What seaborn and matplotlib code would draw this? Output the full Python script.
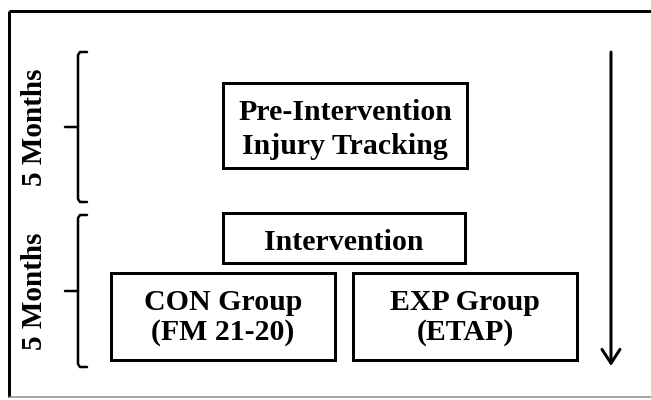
import matplotlib
matplotlib.use('Agg')
import matplotlib.pyplot as plt
import seaborn as sns
from matplotlib.patches import Rectangle, FancyArrowPatch

# ====================
# Data
# ====================

box_labels = ['Pre-Intervention\nInjury Tracking', 'Intervention',
              'CON Group\n(FM 21-20)', 'EXP Group\n(ETAP)']
# box geometry in pixels: left, top, right, bottom
box_left = [223, 223, 111, 353]
box_top = [83, 213, 273, 273]
box_right = [467, 465, 335, 577]
box_bottom = [168, 263, 360, 360]
text_shift = [4, 4, 1, 1]
line_gap = [1.3, 1.0, 1.15, 1.15]

phase_labels = ['5 Months', '5 Months']
phase_top = [52, 215]
phase_bottom = [202, 367]

# ====================
# Plotting
# ====================

sns.set_style('white')
plt.rcParams['font.family'] = ['Liberation Serif', 'DejaVu Serif']
plt.rcParams['text.color'] = 'black'

fig = plt.figure(figsize=(6.51, 4.0), dpi=100)
ax = fig.add_axes([0, 0, 1, 1])
ax.set_xlim(0, 651)
ax.set_ylim(400, 0)
ax.axis('off')

px = 0.72  # points per pixel

# outer frame
ax.plot([9, 9], [11, 397], color='black', lw=3 * px, solid_capstyle='butt')
ax.plot([9, 651], [11, 11], color='black', lw=3 * px, solid_capstyle='butt')
ax.plot([9, 651], [397, 397], color='#888888', lw=1.5 * px)

# boxes
for lab, l, t, r, b, dy, ls in zip(box_labels, box_left, box_top, box_right,
                                   box_bottom, text_shift, line_gap):
    ax.add_patch(Rectangle((l, t), r - l, b - t, fill=False, edgecolor='black',
                           lw=3 * px))
    ax.text((l + r) / 2, (t + b) / 2 + dy, lab, ha='center', va='center',
            fontsize=21.5, fontweight='bold', linespacing=ls, color='black')

# braces with phase labels
bx = 78
for lab, t, b in zip(phase_labels, phase_top, phase_bottom):
    mid = (t + b) / 2
    ax.plot([bx + 9, bx + 2, bx, bx, bx - 13], [t, t, t + 3, mid, mid],
            color='black', lw=2.5 * px)
    ax.plot([bx + 9, bx + 2, bx, bx], [b, b, b - 3, mid],
            color='black', lw=2.5 * px)
    ax.text(35, mid, lab, rotation=90, ha='center', va='center',
            fontsize=21, fontweight='bold', color='black')

# time arrow
ax.add_patch(FancyArrowPatch((611, 52), (611, 366), arrowstyle='->,head_length=4,head_width=2.6',
                             color='black', lw=3 * px, shrinkA=0, shrinkB=0,
                             mutation_scale=2.5))

fig.savefig('out.png', dpi=100)
